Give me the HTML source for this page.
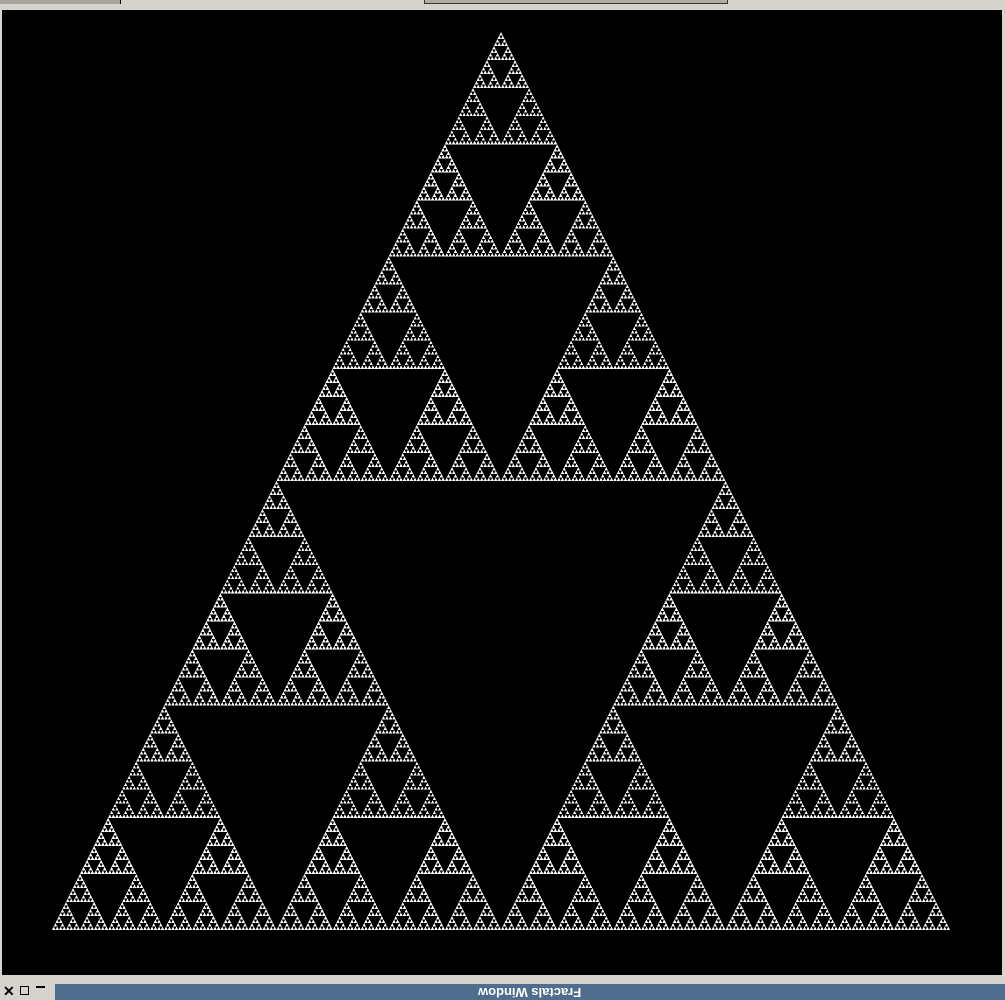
<!DOCTYPE html>
<html><head><meta charset="utf-8"><style>
html,body{margin:0;padding:0;width:1005px;height:1000px;overflow:hidden;background:#d6d3ce;font-family:"Liberation Sans",sans-serif}
#top{position:absolute;left:0;top:0;width:1005px;height:7px;background:#d6d3ce}
#canvas{position:absolute;left:2px;top:10px;width:1000px;height:965px;background:#000}
#bar{position:absolute;left:0;top:982px;width:1005px;height:18px;background:#d6d3ce}
#title{position:absolute;left:55px;top:984px;width:950px;height:16px;background:#4f6d8c;color:#fff;font-weight:bold;font-size:13px;line-height:16px;text-align:center}
#title span{display:inline-block;transform:rotate(180deg)}
</style></head><body>
<div id="top">
 <div style="position:absolute;left:0;top:0;width:120px;height:4px;background:#a8a49c;border-right:1px solid #000"></div>
 <div style="position:absolute;left:424px;top:0;width:302px;height:3px;background:#b0aca4;border:1px solid #333;border-top:none"></div>
</div>
<div id="canvas">
<svg id="svg" width="1000" height="965" shape-rendering="crispEdges"></svg>
</div>
<div id="bar">
 <div style="position:absolute;left:3px;top:2px;font-size:14px;font-weight:bold;line-height:14px">✕</div>
 <div style="position:absolute;left:20px;top:4px;width:9px;height:9px;border:1px solid #000;box-sizing:border-box"></div>
 <div style="position:absolute;left:36px;top:4px;width:9px;height:2px;background:#000"></div>
</div>
<div id="title"><span>Fractals Window</span></div>
<script>
const apex = [499, 22];
const baseLeft = [50, 920];
const baseRight = [948, 920];
const depth = 8;
const svg = document.getElementById('svg');
const NS = 'http://www.w3.org/2000/svg';
function poly(a,b,c,fill,name){
  const p=document.createElementNS(NS,'polygon');
  p.setAttribute('points',a.join(',')+' '+b.join(',')+' '+c.join(','));
  p.setAttribute('fill',fill);
  
  
  svg.appendChild(p);
}
function mid(p,q){return [(p[0]+q[0])/2,(p[1]+q[1])/2];}
poly(apex,baseLeft,baseRight,'#fff','outer-triangle');
function rec(a,b,c,d){
  if(d===0)return;
  const ab=mid(a,b),bc=mid(b,c),ca=mid(c,a);
  poly(ab,bc,ca,'#000','hole');
  rec(a,ab,ca,d-1);rec(ab,b,bc,d-1);rec(ca,bc,c,d-1);
}
rec(apex,baseLeft,baseRight,depth);
</script>
</body></html>
